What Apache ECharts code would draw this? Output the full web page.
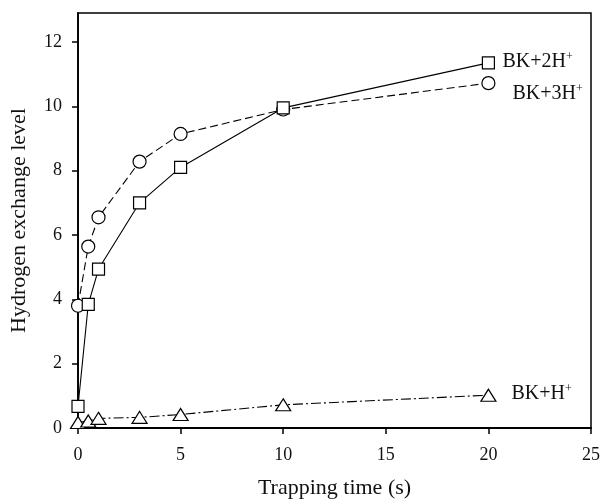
<!DOCTYPE html>
<html><head><meta charset="utf-8">
<script src="https://cdn.jsdelivr.net/npm/echarts@6/dist/echarts.min.js"></script>
<style>html,body{margin:0;padding:0;background:#fff}#c{width:603px;height:504px}</style>
</head><body><div id="c"></div>
<script>
const timesBK2 = [0, 0.5, 1, 3, 5, 10, 20];
const valuesBK2 = [0.67, 3.84, 4.94, 7.0, 8.1, 9.95, 11.35];
const timesBK3 = [0, 0.5, 1, 3, 5, 10, 20];
const valuesBK3 = [3.8, 5.64, 6.55, 8.28, 9.14, 9.9, 10.72];
const timesBK1 = [0, 0.5, 1, 3, 5, 10, 20];
const valuesBK1 = [0.17, 0.22, 0.3, 0.33, 0.42, 0.72, 1.02];
const xTicks = [0, 5, 10, 15, 20, 25];
const yTicks = [0, 2, 4, 6, 8, 10, 12];

const font = 'Liberation Serif, Times New Roman, serif';
function pts(xs, ys){ return xs.map((x,i)=>[x, ys[i]]); }
function lab(main){ return {
  show:true, formatter:'{a|'+main+'}{s|+}', fontFamily:font, color:'#111',
  rich:{a:{fontFamily:font, fontSize:20, color:'#111'}, s:{fontFamily:font, fontSize:12, color:'#111', verticalAlign:'top', padding:[0,0,10,0]}}
};}
const chart = echarts.init(document.getElementById('c'), null, {renderer:'canvas'});
chart.setOption({
  animation:false,
  backgroundColor:'#fff',
  grid:{left:78, right:11, top:13, bottom:75, show:true, borderColor:'#000', borderWidth:1.5, backgroundColor:'transparent'},
  xAxis:{type:'value', min:0, max:25, interval:5,
    name:'Trapping time (s)', nameLocation:'middle', nameGap:49,
    nameTextStyle:{fontFamily:font, fontSize:22, color:'#111'},
    axisLine:{lineStyle:{color:'#000', width:1.8}},
    axisTick:{inside:false, length:6, lineStyle:{color:'#000', width:1.5}},
    axisLabel:{fontFamily:font, fontSize:18, color:'#111', margin:18, formatter:v=>xTicks.includes(v)?String(v):''},
    splitLine:{show:false}},
  yAxis:{type:'value', min:0, max:12.9, interval:2,
    name:'Hydrogen exchange level', nameLocation:'middle', nameGap:48, nameRotate:90,
    nameTextStyle:{fontFamily:font, fontSize:22, color:'#111'},
    axisLine:{lineStyle:{color:'#000', width:1.8}},
    axisTick:{inside:false, length:6, lineStyle:{color:'#000', width:1.5}},
    axisLabel:{fontFamily:font, fontSize:18, color:'#111', margin:16, showMaxLabel:false, formatter:v=>yTicks.includes(v)?String(v):''},
    splitLine:{show:false}},
  series:[
    {type:'line', data:pts(timesBK2, valuesBK2), symbol:'rect', symbolSize:12,
     itemStyle:{color:'#fff', borderColor:'#000', borderWidth:1.2},
     lineStyle:{color:'#000', width:1.1, type:'solid'},
     endLabel:Object.assign(lab('BK+2H'), {offset:[6,-1]}), z:3},
    {type:'line', data:pts(timesBK3, valuesBK3), symbol:'circle', symbolSize:13,
     itemStyle:{color:'#fff', borderColor:'#000', borderWidth:1.2},
     lineStyle:{color:'#000', width:1.1, type:[8,4]},
     endLabel:Object.assign(lab('BK+3H'), {offset:[16,11]}), z:2},
    {type:'line', data:pts(timesBK1, valuesBK1), symbol:'triangle', symbolSize:[15,12],
     itemStyle:{color:'#fff', borderColor:'#000', borderWidth:1.2},
     lineStyle:{color:'#000', width:1.1, type:[10,3,2,3]},
     endLabel:Object.assign(lab('BK+H'), {offset:[15,-1]}), z:2}
  ]
});
</script></body></html>
